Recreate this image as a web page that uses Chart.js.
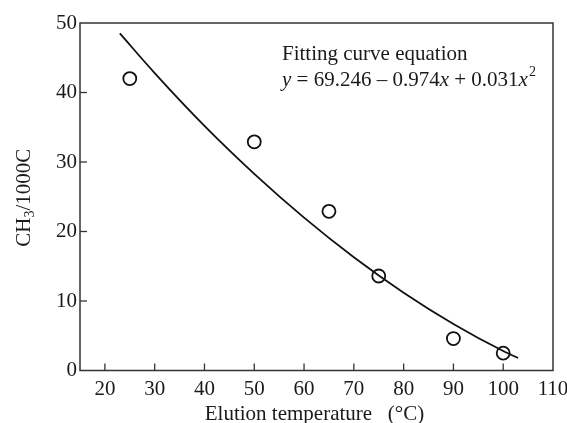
<!DOCTYPE html>
<html><head><meta charset="utf-8">
<script src="https://cdn.jsdelivr.net/npm/chart.js@4.4.1/dist/chart.umd.min.js"></script>
<style>html,body{margin:0;padding:0;background:#fff}#wrap{width:567px;height:423px}</style>
</head><body><div id="wrap"><canvas id="c" width="567" height="423"></canvas></div>
<script>
// measured points
const tempX = [25, 50, 65, 75, 90, 100];
const ch3Y = [42.0, 32.9, 22.9, 13.6, 4.6, 2.5];
// fitted curve
const curveX = [23, 30, 40, 50, 60, 70, 80, 90, 100, 103];
const curveY = [48.5, 42.8, 35.2, 28.3, 22.0, 16.3, 11.2, 6.7, 2.8, 1.8];
const xTicks = [20, 30, 40, 50, 60, 70, 80, 90, 100, 110];
const yTicks = [0, 10, 20, 30, 40, 50];
const xTitle = 'Elution temperature \u2002(\u00B0C)';
const yTitleParts = ['CH', '3', '/1000C'];
const eqTitle = 'Fitting curve equation';

const FONT = "'Liberation Serif', 'Times New Roman', serif";
const FS = 21;
const INK = '#1a1a1a';

const framePlugin = {
  id: 'frame',
  afterDraw(chart) {
    const {ctx, chartArea: a, scales} = chart;
    ctx.save();
    ctx.strokeStyle = '#333';
    ctx.lineWidth = 1.5;
    ctx.strokeRect(a.left, a.top, a.right - a.left, a.bottom - a.top);
    // inward ticks
    ctx.lineWidth = 1.3;
    xTicks.forEach(v => {
      const px = scales.x.getPixelForValue(v);
      if (px > a.right - 1) return;
      ctx.beginPath(); ctx.moveTo(px, a.bottom); ctx.lineTo(px, a.bottom - 7); ctx.stroke();
    });
    yTicks.forEach(v => {
      const py = scales.y.getPixelForValue(v);
      if (py < a.top + 1 || py > a.bottom - 1) return;
      ctx.beginPath(); ctx.moveTo(a.left, py); ctx.lineTo(a.left + 7, py); ctx.stroke();
    });
    ctx.fillStyle = INK;
    ctx.textBaseline = 'alphabetic';
    ctx.textAlign = 'left';
    // annotation text
    const x0 = a.left + 202, y1 = a.top + 36.5, y2 = a.top + 62.5;
    ctx.font = `${FS}px ${FONT}`;
    ctx.fillText(eqTitle, x0, y1);
    const parts = [
      ['y', `italic ${FS}px`], [' = 69.246 \u2013 0.974', `${FS}px`], ['x', `italic ${FS}px`],
      [' + 0.031', `${FS}px`], ['x', `italic ${FS}px`]
    ];
    let x = x0;
    parts.forEach(([t, f]) => {
      ctx.font = `${f} ${FONT}`;
      ctx.fillText(t, x, y2);
      x += ctx.measureText(t).width;
    });
    ctx.font = `14px ${FONT}`;
    ctx.fillText('2', x + 1, y2 - 10);

    // x-axis title
    ctx.font = `${FS}px ${FONT}`;
    ctx.textAlign = 'center';
    ctx.fillText(xTitle, (a.left + a.right) / 2 - 2, 420);

    // y-axis title with subscript
    ctx.textAlign = 'left';
    const fMain = `${FS}px ${FONT}`, fSub = `14px ${FONT}`;
    ctx.font = fMain; const w0 = ctx.measureText(yTitleParts[0]).width;
    ctx.font = fSub; const w1 = ctx.measureText(yTitleParts[1]).width;
    ctx.font = fMain; const w2 = ctx.measureText(yTitleParts[2]).width;
    const total = w0 + w1 + w2;
    ctx.translate(30, (a.top + a.bottom) / 2 + 1);
    ctx.rotate(-Math.PI / 2);
    let tx = -total / 2;
    ctx.font = fMain; ctx.fillText(yTitleParts[0], tx, 0); tx += w0;
    ctx.font = fSub; ctx.fillText(yTitleParts[1], tx, 4); tx += w1;
    ctx.font = fMain; ctx.fillText(yTitleParts[2], tx, 0);
    ctx.restore();
  }
};

new Chart(document.getElementById('c'), {
  type: 'scatter',
  data: {
    datasets: [
      {
        label: 'fit',
        data: curveX.map((v, i) => ({x: v, y: curveY[i]})),
        showLine: true,
        borderColor: '#111',
        borderWidth: 1.8,
        pointRadius: 0,
        cubicInterpolationMode: 'monotone',
        fill: false
      },
      {
        label: 'measured',
        data: tempX.map((v, i) => ({x: v, y: ch3Y[i]})),
        showLine: false,
        pointStyle: 'circle',
        pointRadius: 6.5,
        pointBorderWidth: 1.8,
        pointBorderColor: '#111',
        pointBackgroundColor: 'rgba(255,255,255,0)'
      }
    ]
  },
  options: {
    responsive: false,
    animation: false,
    devicePixelRatio: 1,
    layout: {padding: {top: 23, right: 14, left: 0, bottom: 0}},
    plugins: {legend: {display: false}, tooltip: {enabled: false}},
    scales: {
      x: {
        type: 'linear', min: 15, max: 110,
        afterBuildTicks: s => { s.ticks = xTicks.map(v => ({value: v})); },
        afterFit: s => { s.height = 52.5; s.paddingLeft = 0; s.paddingRight = 0; },
        grid: {display: false, drawTicks: false},
        border: {display: false},
        ticks: {color: INK, font: {family: FONT, size: FS}, padding: 6, maxRotation: 0, autoSkip: false},
        title: {display: false}
      },
      y: {
        type: 'linear', min: 0, max: 50,
        afterBuildTicks: s => { s.ticks = yTicks.map(v => ({value: v})); },
        afterFit: s => { s.width = 80; s.paddingTop = 0; s.paddingBottom = 0; },
        grid: {display: false, drawTicks: false},
        border: {display: false},
        ticks: {color: INK, font: {family: FONT, size: FS}, padding: 3},
        title: {display: false}
      }
    }
  },
  plugins: [framePlugin]
});
</script>
</body></html>
